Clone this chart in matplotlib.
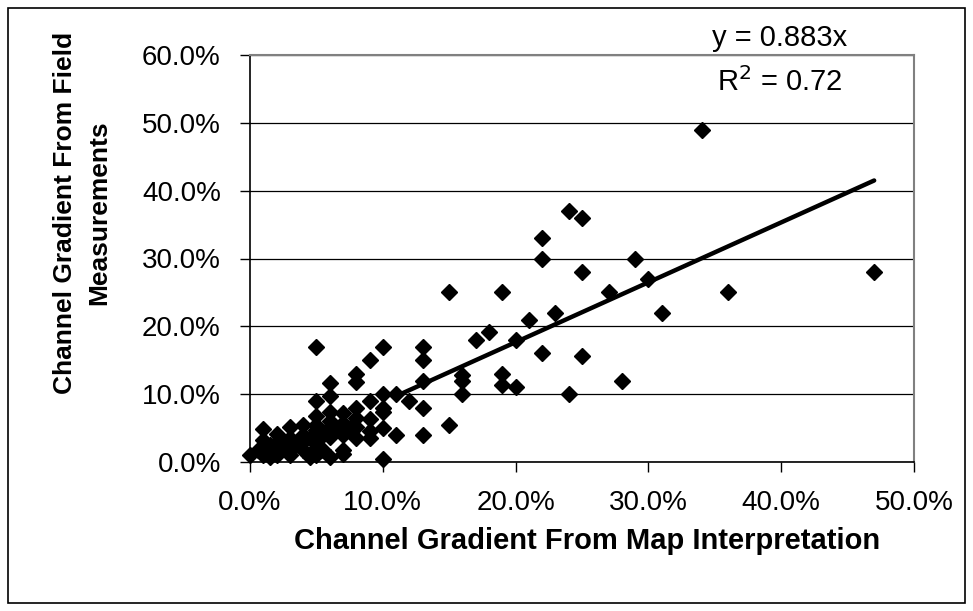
import matplotlib
matplotlib.use("Agg")
import matplotlib.pyplot as plt
from matplotlib.patches import Rectangle
from matplotlib.ticker import PercentFormatter, MultipleLocator

plt.rcParams['font.family'] = ['Liberation Sans', 'DejaVu Sans']

# channel gradient pairs, in percent: map interpretation vs field measurement
map_pct = [34, 47, 36, 31, 30, 29,
           24, 25, 22, 22, 25, 15, 19, 27, 23, 21, 18, 17, 20, 13, 13, 13,
           22, 25, 16, 16, 16, 19, 19, 20, 28, 24, 12, 13, 15, 13, 11,
           5, 10, 9, 8, 8, 6, 6, 5, 10, 11, 9, 8, 10, 5, 6, 7, 9, 10, 9, 8,
           10, 7, 8, 9, 6, 5, 6, 5, 5.5, 7, 6, 7, 5, 10,
           0, 1, 2, 3, 4, 1, 0.6, 1, 2, 3, 4, 4.5, 1.5, 2, 2.5, 3, 3.5, 4, 4,
           4.5, 5, 5, 5.5, 6, 6.5, 7, 7.5, 8, 2, 3, 1.5]
field_pct = [49, 28, 25, 22, 27, 30,
             37, 36, 33, 30, 28, 25, 25, 25, 22, 21, 19.2, 18, 18, 17, 15, 12,
             16, 15.6, 12.8, 12, 10, 13, 11.3, 11, 12, 10, 9, 8, 5.5, 4, 4,
             17, 17, 15, 13, 11.8, 11.7, 9.8, 9, 10, 10, 9, 8, 8, 6.8, 7.4, 7.2, 6.3, 5, 3.6, 3.6,
             0.4, 5.7, 5.2, 4.6, 5.2, 4.7, 3.7, 2, 1.8, 1.8, 0.8, 1.2, 1, 7.4,
             1, 4.9, 4.2, 5.2, 5.4, 3.2, 1.8, 1, 1, 1, 1.8, 0.8, 2.5, 3, 2, 3.5, 2.5, 3, 4,
             3.5, 3, 5.5, 4, 6, 5, 4, 5, 6.5, 2, 2, 0.8]

slope = 0.883
trend_x = [11.3, 47.0]

x = [v / 100 for v in map_pct]
y = [v / 100 for v in field_pct]
tx = [v / 100 for v in trend_x]
ty = [slope * v for v in tx]

fig = plt.figure(figsize=(9.73, 6.11), dpi=100)
fig.patches.append(Rectangle((8 / 973, 8 / 611), 957 / 973, 595 / 611,
                             transform=fig.transFigure, fill=False,
                             edgecolor='black', linewidth=1.2))

ax = fig.add_axes([250 / 973, 1 - 462 / 611, 664 / 973, 407 / 611])
ax.set_xlim(0, 0.5)
ax.set_ylim(0, 0.6)
ax.xaxis.set_major_locator(MultipleLocator(0.1))
ax.yaxis.set_major_locator(MultipleLocator(0.1))
ax.xaxis.set_major_formatter(PercentFormatter(1.0, decimals=1))
ax.yaxis.set_major_formatter(PercentFormatter(1.0, decimals=1))
ax.grid(axis='y', color='black', linewidth=0.9)
ax.set_axisbelow(True)

for side in ('top', 'right'):
    ax.spines[side].set_color('#808080')
    ax.spines[side].set_linewidth(1.5)
for side in ('left', 'bottom'):
    ax.spines[side].set_color('black')
    ax.spines[side].set_linewidth(1.2)

ax.tick_params(axis='both', direction='out', length=7, width=1, color='black')
ax.tick_params(axis='x', labelsize=20, pad=13)
ax.tick_params(axis='y', labelsize=20, pad=14)

ax.plot(x, y, linestyle='none', marker='D', markersize=8,
        color='black', clip_on=False, zorder=3)
ax.plot(tx, ty, color='black', linewidth=3.2, solid_capstyle='round', zorder=4)

fig.text(780 / 973, 1 - 38 / 611, 'y = 0.883x', fontsize=21,
         ha='center', va='center')
fig.text(780 / 973, 1 - 82 / 611, r'R$^2$ = 0.72', fontsize=21,
         ha='center', va='center')

fig.text(587 / 973, 1 - 541 / 611, 'Channel Gradient From Map Interpretation',
         fontsize=21, fontweight='bold', ha='center', va='center')
fig.text(82 / 973, 1 - 213 / 611, 'Channel Gradient From Field\nMeasurements',
         fontsize=19, fontweight='bold', ha='center', va='center',
         rotation=90, linespacing=1.55)

fig.savefig('out.png', dpi=100)
